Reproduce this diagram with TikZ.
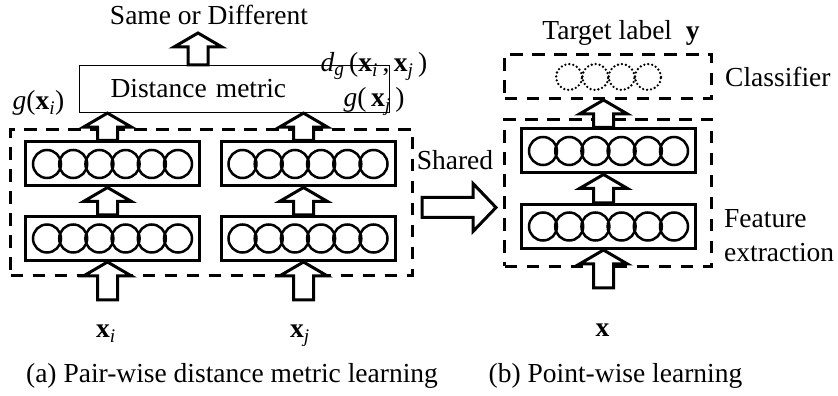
\documentclass[tikz,border=0pt]{standalone}
\usepackage{fontspec}
\setmainfont{Liberation Serif}
\usetikzlibrary{calc}
\newcommand{\vx}[1]{\textbf{x}\textsubscript{\textit{#1}}}

\begin{document}
\begin{tikzpicture}[x=1pt, y=1pt,
    font=\fontsize{27.5}{34}\selectfont,
    txt/.style={inner sep=0pt},
    layer/.style={rectangle, draw=black, line width=3pt, minimum width=174pt, minimum height=44pt, inner sep=0pt},
    group/.style={rectangle, draw=black, line width=3pt, dash pattern=on 12.5pt off 9.5pt, inner sep=0pt},
    unit/.style={draw=black, line width=2.5pt},
    outunit/.style={draw=black, line width=2.6pt, line cap=round, dash pattern=on 0pt off 4pt},
    fatup/.style={draw=black, fill=white, line width=3pt, to path={let \p1=(\tikztostart), \p2=(\tikztotarget) in
        (\x1-10,\y1) -- (\x1-10,\y2-14) -- (\x1-24,\y2-14) -- (\x1,\y2) -- (\x1+24,\y2-14) -- (\x1+10,\y2-14) -- (\x1+10,\y1) -- cycle}},
    fatright/.style={draw=black, fill=white, line width=3pt, to path={let \p1=(\tikztostart), \p2=(\tikztotarget) in
        (\x1,\y1-10) -- (\x2-23,\y1-10) -- (\x2-23,\y1-24) -- (\x2,\y1) -- (\x2-23,\y1+24) -- (\x2-23,\y1+10) -- (\x1,\y1+10) -- cycle}}]
  \useasboundingbox (0,0) rectangle (838,396);

  % (a) pair-wise
  \node[group, minimum width=402pt, minimum height=146pt] (pair) at (211.5,193.5) {};
  \node[layer] (l1a) at (112.5,157.5) {};
  \node[layer] (l1b) at (308,157.5) {};
  \node[layer] (l2a) at (112.5,232) {};
  \node[layer] (l2b) at (308,232) {};
  \node[draw=black, line width=1.2pt, minimum height=47pt, text width=248pt, inner xsep=31pt, align=left] (dm) at (234.5,307) {Distance metric};

  \node[txt, anchor=base] (sod) at (209,371) {Same or Different};
  \node[txt, anchor=base] (gi) at (38.5,286) {\textit{g}(\vx{i})};
  \node[txt, anchor=base] (gj) at (374,289) {\textit{g}(\,\vx{j}\,)};
  \node[txt, anchor=base] (dg) at (374,324) {\textit{d}\textsubscript{\textit{g}}\,(\vx{i}\,,\,\vx{j}\,)};
  \node[txt, anchor=base] (xi) at (106,58) {\vx{i}};
  \node[txt, anchor=base] (xj) at (300,58) {\vx{j}};
  \node[txt, anchor=base] (capa) at (232,13) {(a) Pair-wise distance metric learning};

  % (b) point-wise
  \node[group, minimum width=207pt, minimum height=147pt] (feat) at (608,203) {};
  \node[group, minimum width=207pt, minimum height=44pt] (cls) at (608,319.5) {};
  \node[layer] (r1) at (608.5,169.5) {};
  \node[layer] (r2) at (608.5,245) {};

  \node[txt, anchor=base] (tgt) at (621,356) {Target label\hspace{0.5em}\textbf{y}};
  \node[txt, anchor=base west] (clsl) at (725,309) {Classifier};
  \node[txt, anchor=west, align=left] (featl) at (724,160) {Feature\\extraction};
  \node[txt, anchor=base] (xr) at (602.5,59) {\textbf{x}};
  \node[txt, anchor=base] (shl) at (455,226) {Shared};
  \node[txt, anchor=base] (capb) at (615.5,13) {(b) Point-wise learning};

  % neurons
  \foreach \b in {l1a,l1b,l2a,l2b,r1,r2}
    \foreach \k in {0,...,5}
      \draw[unit] ($(\b.center)+({(\k-2.5)*26.2},0)$) circle (14);
  \foreach \k in {0,...,3}
    \draw[outunit] ($(cls.center)+({(\k-1.5)*26.3+0.5},-0.5)$) circle (13);

  % block arrows
  \coordinate (ina) at (107.5,96);
  \coordinate (inb) at (303.5,96);
  \coordinate (inr) at (603.5,108);
  \coordinate (sodtip) at (198,363);
  \coordinate (shfrom) at (422,188.5);

  \draw[fatup] (ina) to (l1a.south);
  \draw[fatup] (inb) to (l1b.south);
  \draw[fatup] ([xshift=-5pt]l1a.north) to (l2a.south);
  \draw[fatup] ([xshift=-4.5pt]l1b.north) to (l2b.south);
  \draw[fatup] ([xshift=-5pt]l2a.north) to (dm.south);
  \draw[fatup] ([xshift=-4.5pt]l2b.north) to (dm.south);
  \draw[fatup] ([xshift=-36.5pt]dm.north) to (sodtip);

  \draw[fatup] (inr) to (r1.south);
  \draw[fatup] ([xshift=-5pt]r1.north) to (r2.south);
  \draw[fatup] ([xshift=-5pt]r2.north) to (cls.south);
  \draw[fatright] (shfrom) to ([xshift=-7pt]feat.west);
\end{tikzpicture}
\end{document}
